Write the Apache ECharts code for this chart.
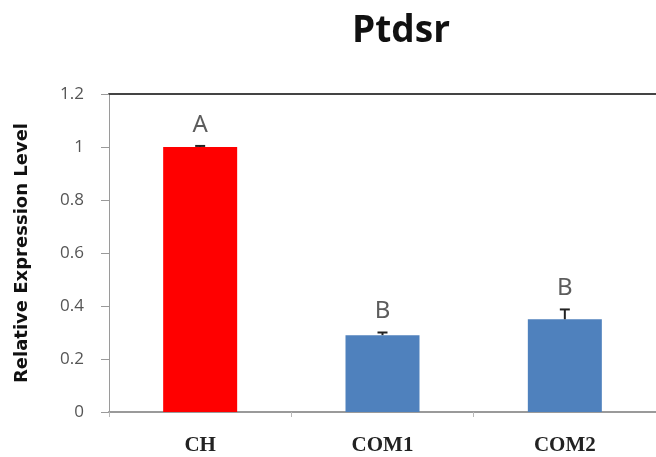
<!DOCTYPE html>
<html>
<head>
<meta charset="utf-8">
<script src="https://cdn.jsdelivr.net/npm/echarts@6/dist/echarts.min.js"></script>
<style>
html,body{margin:0;padding:0;background:#fff;}
#chart{width:656px;height:457px;}
</style>
</head>
<body>
<div id="chart"></div>
<script>
const categories = ['CH', 'COM1', 'COM2'];
const values = [1.0, 0.29, 0.35];
const errors = [0.004, 0.01, 0.037];
const letters = ['A', 'B', 'B'];
const barColors = ['#ff0000', '#4f81bd', '#4f81bd'];
const yTicks = [0, 0.2, 0.4, 0.6, 0.8, 1, 1.2];

const chart = echarts.init(document.getElementById('chart'));

const errorData = categories.map((c, i) => [i, values[i], values[i] + errors[i]]);
const letterData = categories.map((c, i) => ({ value: [i, values[i] + errors[i]], letter: letters[i] }));

chart.setOption({
  animation: false,
  backgroundColor: '#ffffff',
  title: {
    text: 'Ptdsr',
    left: 396,
    textAlign: 'center',
    top: 8,
    textStyle: { fontFamily: 'Open Sans', fontWeight: 'bold', fontSize: 37, color: '#111' }
  },
  grid: { left: 109, top: 94, bottom: 45, right: -9, containLabel: false },
  xAxis: [{
    type: 'category',
    data: categories,
    axisLine: { lineStyle: { color: '#9a9a9a', width: 2 } },
    axisTick: { show: true, length: 5, lineStyle: { color: '#b8b8b8' } },
    axisLabel: { margin: 23, fontFamily: 'Liberation Serif', fontWeight: 'bold', fontSize: 21, color: '#222' }
  }, {
    type: 'category',
    position: 'top',
    data: categories,
    axisLine: { lineStyle: { color: '#444', width: 2 } },
    axisTick: { show: false },
    axisLabel: { show: false }
  }],
  yAxis: {
    type: 'value',
    min: 0,
    max: 1.2,
    interval: 0.2,
    name: 'Relative Expression Level',
    nameLocation: 'middle',
    nameRotate: 90,
    nameGap: 78,
    nameTextStyle: { fontFamily: 'DejaVu Sans', fontWeight: 'bold', fontSize: 18, color: '#111' },
    axisLine: { show: true, lineStyle: { color: '#9a9a9a', width: 1 } },
    axisTick: { show: true, length: 8, lineStyle: { color: '#9a9a9a' } },
    splitLine: { show: false },
    axisLabel: {
      margin: 25,
      fontFamily: 'Open Sans',
      fontSize: 17,
      color: '#555',
      formatter: v => String(yTicks.find(t => Math.abs(t - v) < 1e-9) ?? v)
    }
  },
  series: [{
    type: 'bar',
    data: values.map((v, i) => ({ value: v, itemStyle: { color: barColors[i] } })),
    barWidth: 74
  }, {
    type: 'custom',
    data: errorData,
    z: 5,
    renderItem: function (params, api) {
      const x = api.coord([api.value(0), api.value(1)]);
      const top = api.coord([api.value(0), api.value(2)]);
      const half = 5;
      return {
        type: 'group',
        children: [
          { type: 'line', shape: { x1: x[0], y1: x[1], x2: top[0], y2: top[1] }, style: { stroke: '#222', lineWidth: 2 } },
          { type: 'line', shape: { x1: top[0] - half, y1: top[1], x2: top[0] + half, y2: top[1] }, style: { stroke: '#222', lineWidth: 2 } }
        ]
      };
    }
  }, {
    type: 'scatter',
    data: letterData,
    symbolSize: 0,
    label: {
      show: true,
      position: 'top',
      distance: 9,
      formatter: p => p.data.letter,
      fontFamily: 'Noto Sans',
      fontSize: 24,
      color: '#333'
    }
  }]
});
</script>
</body>
</html>
